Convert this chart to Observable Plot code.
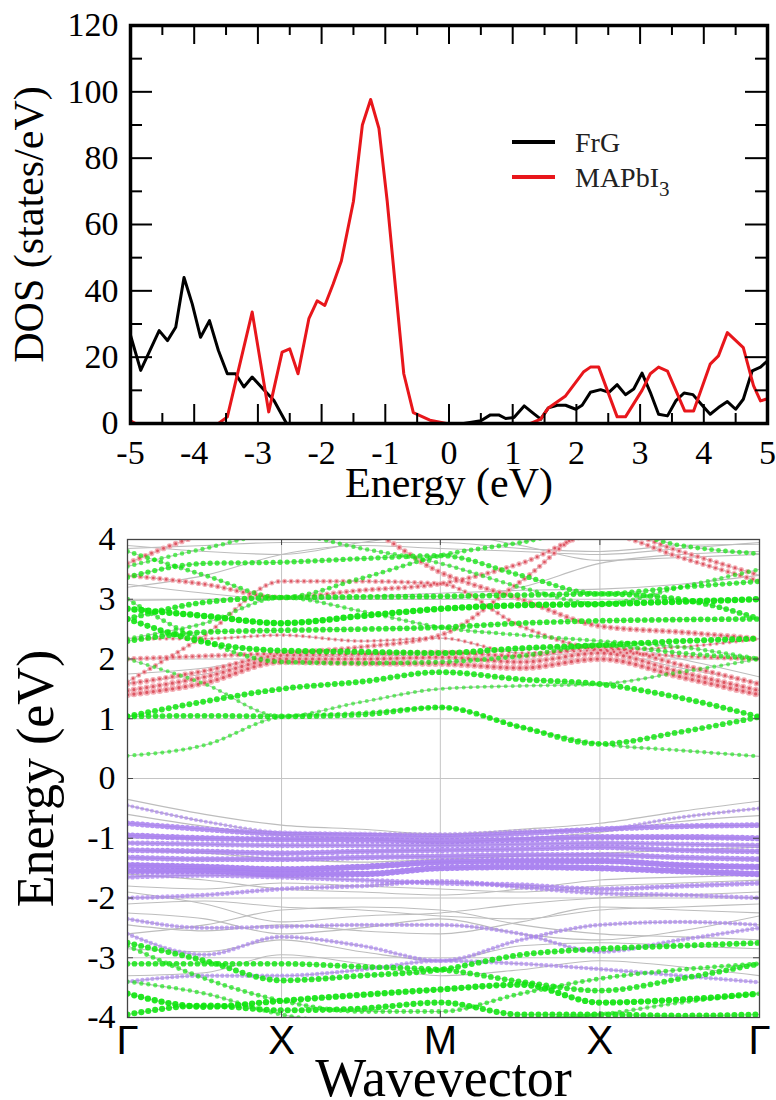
<!DOCTYPE html>
<html><head><meta charset="utf-8">
<script src="https://cdn.jsdelivr.net/npm/d3@7"></script>
<script src="https://cdn.jsdelivr.net/npm/@observablehq/plot@0.6"></script>
<style>
body{margin:0;background:#fff;width:776px;height:1100px;overflow:hidden;position:relative}
#top,#bot{position:absolute;left:0}
#top{top:0}#bot{top:505px}
</style></head><body>
<div id="top"></div><div id="bot"></div>
<script>
// ---------------- DOS panel data ----------------
const seriesNames = ["FrG", "MAPbI3"];
const frgEnergy = [-5.00,-4.84,-4.55,-4.42,-4.29,-4.16,-4.03,-3.90,-3.76,-3.62,-3.48,-3.35,-3.22,-3.09,-2.90,-2.75,-2.55,-1.00,0.23,0.50,0.65,0.78,0.89,1.02,1.18,1.31,1.44,1.56,1.70,1.83,1.99,2.09,2.22,2.38,2.51,2.64,2.77,2.90,3.03,3.16,3.29,3.43,3.56,3.69,3.83,3.96,4.10,4.23,4.37,4.50,4.62,4.76,4.89,5.00];
const frgDOS    = [26.6,16,28,25,29,44,36,26,31,22,15,15,11,14,10,7,0,0,0,0.8,2.6,2.6,1.5,1.8,5.3,3.3,1.3,4.7,5.5,5.5,4.3,5.5,9.4,10.2,9.4,11.7,8.7,10.4,15.2,9.4,2.8,2.3,6.8,9.2,8.7,5.8,2.8,4.8,6.6,4.3,7.3,15.9,17,18.9];
const mapEnergy = [-5.00,-4.92,-3.62,-3.48,-3.09,-2.83,-2.62,-2.50,-2.37,-2.20,-2.07,-1.95,-1.82,-1.69,-1.50,-1.36,-1.23,-1.10,-0.97,-0.84,-0.71,-0.56,-0.30,-0.04,1.28,1.44,1.56,1.83,2.11,2.22,2.35,2.64,2.77,3.03,3.16,3.29,3.43,3.70,3.84,4.10,4.23,4.37,4.62,4.78,4.89,4.97];
const mapDOS    = [0.8,0,0,2,33.6,3.5,21.5,22.5,15,31.6,37,35.6,42,49,67,90,97.7,89,67,41,15,3.3,1,0,0,1.3,4.7,8.3,15.5,17,17,2,2,10,15,17,15.8,3.8,3.8,17.9,20.4,27.4,22.9,11.4,6.8,7.3];
const dosXTicks = [-5,-4,-3,-2,-1,0,1,2,3,4,5];
const dosXMinor = [-4.5,-3.5,-2.5,-1.5,-0.5,0.5,1.5,2.5,3.5,4.5];
const dosYTicks = [0,20,40,60,80,100,120];
const dosYMinor = [10,30,50,70,90,110];

// ---------------- Band structure data ----------------
const kLabels = ["Γ","X","M","X","Γ"];
const kTicks  = [0, 0.975, 1.98, 2.99, 4];
const kNodes  = [0, 0.49, 0.975, 1.48, 1.98, 2.49, 2.99, 3.5, 4];
const energyTicks = [-4,-3,-2,-1,0,1,2,3,4];

// energies (eV) at kNodes
const greenBands = [
  [0.38,0.56,1.03,1.10,1.19,0.86,0.58,0.47,0.37],
  [1.04,1.05,1.04,1.07,1.19,0.86,0.58,0.78,1.03],
  [2.00,1.58,1.04,1.28,1.50,1.55,1.58,1.78,2.00],
  [1.04,1.29,1.50,1.62,1.78,1.66,1.58,1.35,1.03],
  [2.67,2.28,2.14,2.12,2.10,2.18,2.23,2.30,2.34],
  [2.30,2.45,2.48,2.50,2.53,2.60,2.64,2.66,2.67],
  [3.00,2.30,1.95,1.93,1.95,2.05,2.23,2.10,2.00],
  [2.84,2.72,2.60,2.72,2.84,2.90,2.92,2.96,3.00],
  [2.67,2.95,3.03,3.04,3.05,3.07,3.09,3.00,2.67],
  [3.37,3.60,3.62,3.68,3.73,3.40,3.09,3.20,3.30],
  [3.80,3.40,3.03,3.35,3.73,3.95,4.20,3.90,3.76],
  [3.55,3.85,4.10,3.85,3.60,3.20,2.92,3.20,3.50],
  [2.34,2.60,3.03,2.80,2.53,2.40,2.30,2.20,2.00],
  [-2.75,-3.05,-3.38,-3.30,-3.20,-2.95,-2.85,-2.80,-2.75],
  [-3.10,-3.10,-3.10,-3.15,-3.20,-3.40,-3.55,-3.35,-3.10],
  [-3.60,-3.82,-3.72,-3.62,-3.53,-3.45,-3.75,-3.70,-3.60],
  [-3.95,-3.80,-3.88,-3.85,-3.75,-3.95,-3.95,-3.97,-3.95],
  [-2.80,-3.35,-3.72,-3.90,-3.90,-3.60,-3.35,-3.20,-3.10],
  [-3.40,-3.60,-3.95,-4.10,-4.10,-4.05,-3.95,-3.75,-3.60]
];
const greenWeights = [0.45,0.8,0.4,0.85,0.9,0.8,0.6,1.0,0.8,0.7,0.6,0.5,0.5,0.85,0.8,0.95,0.9,0.6,0.5];

const redBands = [
  [1.40,1.60,1.95,1.93,1.92,1.85,2.00,1.70,1.40],
  [1.47,1.70,2.00,2.00,2.03,1.95,2.10,1.78,1.47],
  [1.58,1.80,2.06,2.08,2.11,2.05,2.20,1.90,1.58],
  [1.62,2.40,3.30,3.30,3.26,2.55,2.15,2.05,2.00],
  [2.00,2.05,2.10,2.20,2.40,3.30,4.20,3.80,3.40],
  [3.40,3.25,3.03,3.15,3.26,3.60,4.10,3.70,3.30],
  [3.60,4.10,4.40,4.20,3.45,3.00,2.55,2.45,2.34],
  [2.34,2.34,2.40,2.30,2.35,2.10,2.15,2.20,2.34]
];
const redWeights = [0.9,0.8,0.7,0.5,0.6,0.6,0.7,0.3];

const purpleBands = [
  [-0.45,-0.72,-0.90,-0.92,-0.93,-0.88,-0.85,-0.65,-0.50],
  [-0.75,-0.85,-0.93,-0.95,-0.97,-0.92,-0.85,-0.80,-0.78],
  [-0.95,-1.00,-1.02,-1.03,-1.05,-1.02,-0.98,-0.98,-1.00],
  [-1.08,-1.10,-1.12,-1.12,-1.12,-1.10,-1.08,-1.10,-1.12],
  [-1.20,-1.22,-1.25,-1.22,-1.20,-1.18,-1.15,-1.20,-1.22],
  [-1.32,-1.35,-1.35,-1.32,-1.30,-1.28,-1.28,-1.32,-1.35],
  [-1.45,-1.48,-1.52,-1.48,-1.40,-1.38,-1.38,-1.45,-1.48],
  [-1.55,-1.55,-1.60,-1.60,-1.50,-1.48,-1.50,-1.55,-1.60],
  [-1.65,-1.62,-1.65,-1.70,-1.75,-1.78,-1.85,-1.80,-1.75],
  [-2.00,-1.95,-1.85,-1.80,-1.72,-1.82,-1.92,-1.95,-2.00],
  [-2.35,-2.50,-2.48,-2.45,-2.45,-2.60,-2.90,-2.70,-2.50],
  [-2.60,-2.95,-2.65,-2.80,-3.05,-2.70,-2.45,-2.40,-2.45],
  [-3.40,-3.30,-3.30,-3.20,-3.05,-3.10,-3.19,-3.30,-3.41]
];
const purpleWeights = [0.3,0.8,0.9,0.7,0.8,0.8,1.0,1.0,0.6,0.5,0.4,0.4,0.4];

const grayBands = [
  [-0.35,-0.60,-0.78,-0.85,-0.93,-0.85,-0.75,-0.55,-0.38],
  [-0.60,-0.80,-0.95,-1.00,-1.08,-1.00,-0.90,-0.72,-0.62],
  [-1.20,-1.25,-1.35,-1.40,-1.35,-1.30,-1.25,-1.20,-1.15],
  [-1.60,-1.70,-1.85,-1.90,-1.95,-1.85,-1.70,-1.65,-1.62],
  [-1.80,-1.85,-1.75,-1.80,-1.85,-1.90,-1.80,-1.75,-1.70],
  [-1.90,-2.10,-2.40,-2.30,-2.25,-2.10,-2.00,-1.95,-1.90],
  [-2.10,-2.05,-2.15,-2.20,-2.30,-2.35,-2.20,-2.15,-2.10],
  [-2.25,-2.35,-2.60,-2.50,-2.35,-2.60,-2.70,-2.55,-2.30],
  [-2.45,-2.55,-2.45,-2.55,-2.60,-2.40,-2.15,-2.20,-2.25],
  [-2.60,-2.45,-2.20,-2.15,-2.20,-2.45,-2.60,-2.65,-2.70],
  [-2.85,-2.90,-2.70,-2.90,-3.05,-2.80,-2.75,-2.80,-2.85],
  [-3.30,-3.25,-2.95,-3.10,-3.30,-3.20,-3.05,-3.15,-3.30],
  [1.60,1.75,1.98,2.00,2.02,2.05,2.10,1.85,1.60],
  [1.75,1.85,2.03,2.05,2.08,2.15,2.25,2.00,1.70],
  [2.98,3.00,3.02,3.00,3.00,3.20,3.60,3.75,3.80],
  [3.20,3.40,3.75,3.90,3.85,3.80,3.75,3.85,3.95],
  [3.85,3.90,3.95,3.95,3.95,3.85,3.80,3.90,3.92],
  [3.90,3.80,3.75,3.95,4.10,3.90,3.65,3.70,3.75],
  [3.25,3.10,3.00,3.05,3.10,3.15,3.17,3.25,3.40]
];

// ---------------- build tables ----------------
const frgRows = frgEnergy.map((e,i)=>({E:e, D:frgDOS[i], s:seriesNames[0]}));
const mapRows = mapEnergy.map((e,i)=>({E:e, D:mapDOS[i], s:seriesNames[1]}));
function rows(bands, weights, tag){
  const out = [];
  bands.forEach((b,j)=>b.forEach((e,i)=>out.push({band:tag+j, k:kNodes[i], E:e, w:weights?weights[j]:0})));
  return out;
}
const gRows = rows(greenBands, greenWeights, "g");
const rRows = rows(redBands, redWeights, "r");
const pRows = rows(purpleBands, purpleWeights, "p");
const grRows = rows(grayBands, null, "x");
const allRows = [...grRows, ...pRows, ...rRows, ...gRows];

const serif = "'Liberation Serif','Times New Roman',serif";
const sans = "'Liberation Sans',Arial,sans-serif";
const fmt = d => String(d);

// ---------------- top: DOS ----------------
const W1 = 637, H1 = 398;
const topPlot = Plot.plot({
  width:776, height:505, marginTop:25, marginBottom:82, marginLeft:130, marginRight:9,
  style:{fontFamily:serif, background:"white", color:"#000"},
  x:{domain:[-5,5]}, y:{domain:[0,120]},
  marks:[
    Plot.line(frgRows,{x:"E", y:"D", stroke:"#000", strokeWidth:3, clip:true}),
    Plot.line(mapRows,{x:"E", y:"D", stroke:"#e8161b", strokeWidth:3, clip:true}),
    Plot.tickX(dosXTicks,{x:d=>d, insetTop:H1-19, stroke:"#000", strokeWidth:2}),
    Plot.tickX(dosXTicks,{x:d=>d, insetBottom:H1-19, stroke:"#000", strokeWidth:2}),
    Plot.tickX(dosXMinor,{x:d=>d, insetTop:H1-10, stroke:"#000", strokeWidth:2}),
    Plot.tickX(dosXMinor,{x:d=>d, insetBottom:H1-10, stroke:"#000", strokeWidth:2}),
    Plot.tickY(dosYTicks,{y:d=>d, insetRight:W1-22, stroke:"#000", strokeWidth:2}),
    Plot.tickY(dosYTicks,{y:d=>d, insetLeft:W1-22, stroke:"#000", strokeWidth:2}),
    Plot.tickY(dosYMinor,{y:d=>d, insetRight:W1-12, stroke:"#000", strokeWidth:2}),
    Plot.tickY(dosYMinor,{y:d=>d, insetLeft:W1-12, stroke:"#000", strokeWidth:2}),
    Plot.frame({stroke:"#000", strokeWidth:3.5}),
    Plot.axisX(dosXTicks,{tickSize:0, tickPadding:16, fontSize:34, label:null, tickFormat:fmt}),
    Plot.axisY(dosYTicks,{tickSize:0, tickPadding:12, fontSize:34, label:null, tickFormat:fmt}),
    Plot.text(["Energy (eV)"],{frameAnchor:"bottom", dy:73, lineAnchor:"bottom", textAnchor:"middle", fontSize:42}),
    Plot.text(["DOS (states/eV)"],{frameAnchor:"left", dx:-101, rotate:-90, textAnchor:"middle", fontSize:42})
  ]
});
document.getElementById("top").appendChild(topPlot);
// legend
const lg = d3.select(topPlot).append("g").attr("font-family", serif).attr("font-size", 28).attr("text-anchor","start");
[[seriesNames[0],"#000",142],[seriesNames[1],"#e8161b",177]].forEach(([name,col,y])=>{
  lg.append("line").attr("x1",512).attr("x2",555).attr("y1",y).attr("y2",y).attr("stroke",col).attr("stroke-width",4);
  const t = lg.append("text").attr("x",575).attr("y",y+10).attr("fill","#222");
  if (name === "MAPbI3") {
    t.append("tspan").text("MAPbI");
    t.append("tspan").attr("font-size",21).attr("dy",9).text("3");
  } else t.text(name);
});

// ---------------- bottom: bands ----------------
const W2 = 632, H2 = 478;
const curve = "monotone-x";
const botPlot = Plot.plot({
  width:776, height:595, marginTop:34, marginBottom:83, marginLeft:127, marginRight:17,
  style:{fontFamily:serif, background:"white", color:"#000"},
  x:{domain:[0,4]}, y:{domain:[-4,4]},
  marks:[
    Plot.ruleY(energyTicks.slice(1,-1),{stroke:"#c4c4c4", strokeWidth:1}),
    Plot.ruleX(kTicks.slice(1,-1),{stroke:"#c4c4c4", strokeWidth:1}),
    Plot.line(allRows,{x:"k", y:"E", z:"band", stroke:"#bdbdbd", strokeWidth:1.1, curve, clip:true}),
    Plot.line(pRows,{x:"k", y:"E", z:"band", stroke:"#a87ff0", strokeWidth:d=>3+3.5*d.w, strokeOpacity:d=>0.45+0.5*d.w,
      strokeLinecap:"round", strokeDasharray:"0 5", curve, clip:true}),
    Plot.line(rRows,{x:"k", y:"E", z:"band", stroke:"#f2a6ae", strokeWidth:d=>3+4*d.w, strokeOpacity:0.9,
      strokeLinecap:"round", strokeDasharray:"0 6.5", curve, clip:true}),
    Plot.line(rRows,{x:"k", y:"E", z:"band", stroke:"#d8404e", strokeWidth:d=>1.5+2*d.w, strokeOpacity:0.8,
      strokeLinecap:"round", strokeDasharray:"0 6.5", curve, clip:true}),
    Plot.line(gRows,{x:"k", y:"E", z:"band", stroke:"#10e610", strokeWidth:d=>2.5+4*d.w, strokeOpacity:d=>0.35+0.6*d.w,
      strokeLinecap:"round", strokeDasharray:"0 7", curve, clip:true}),
    Plot.tickY(energyTicks,{y:d=>d, insetRight:W2-6, stroke:"#444"}),
    Plot.tickY(energyTicks,{y:d=>d, insetLeft:W2-6, stroke:"#444"}),
    Plot.tickX(kTicks,{x:d=>d, insetBottom:H2-6, stroke:"#444"}),
    Plot.tickX(kTicks,{x:d=>d, insetTop:H2-6, stroke:"#444"}),
    Plot.frame({stroke:"#444", strokeWidth:1.3}),
    Plot.axisY(energyTicks,{tickSize:0, tickPadding:12, fontSize:34, label:null, tickFormat:fmt}),
    Plot.axisX(kTicks,{tickSize:0, tickPadding:8, fontSize:40, fontFamily:sans, label:null,
      tickFormat:d=>kLabels[kTicks.indexOf(d)]}),
    Plot.text(["Wavevector"],{frameAnchor:"bottom", dy:78, lineAnchor:"bottom", textAnchor:"middle", fontSize:54}),
    Plot.text(["Energy (eV)"],{frameAnchor:"left", dx:-91, rotate:-90, textAnchor:"middle", fontSize:52})
  ]
});
document.getElementById("bot").appendChild(botPlot);
</script>
</body></html>
